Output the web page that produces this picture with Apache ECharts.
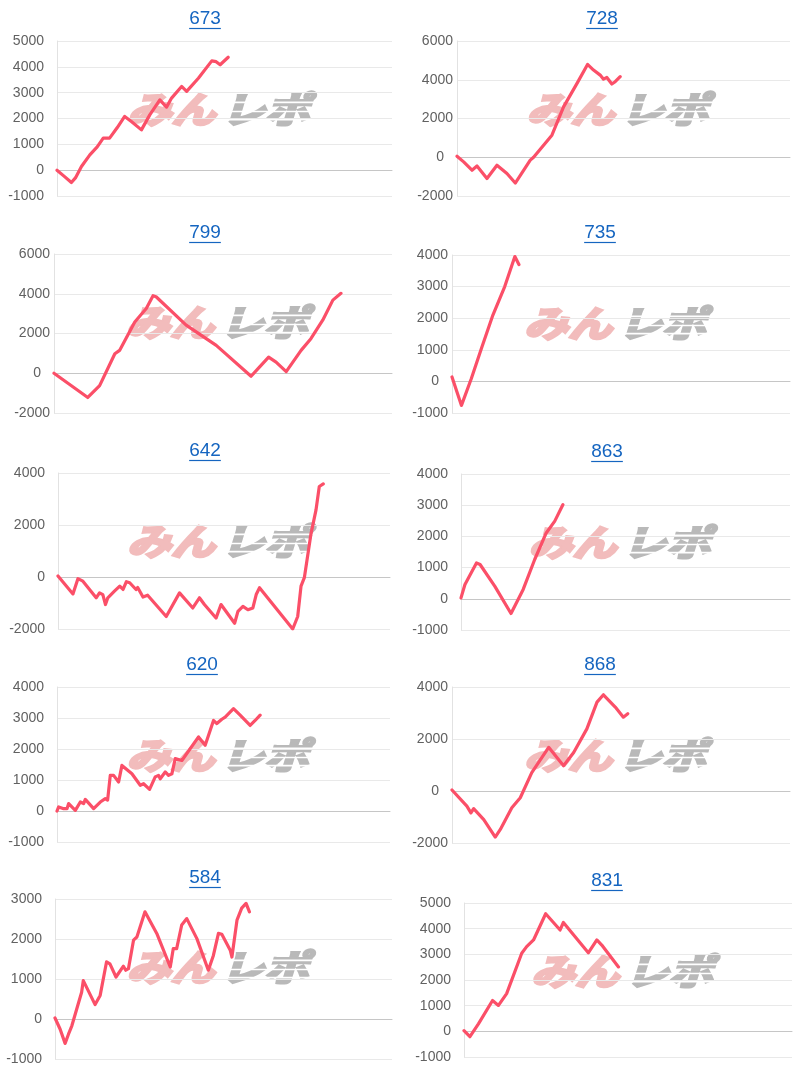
<!DOCTYPE html>
<html><head><meta charset="utf-8">
<script src="https://cdn.jsdelivr.net/npm/echarts@6/dist/echarts.min.js"></script>
<style>html,body{margin:0;padding:0;background:#fff}#c{width:800px;height:1073px}</style>
</head><body><div id="c"></div>
<script>
// ---- data ----
const titles = ['673','728','799','735','642','863','620','868','584','831'];
const yMins = [-1000,-2000,-2000,-1000,-2000,-1000,-1000,-2000,-1000,-1000];
const yMaxs = [5000,6000,6000,4000,4000,4000,4000,4000,3000,5000];
const yIntervals = [1000,2000,2000,1000,2000,1000,1000,2000,1000,1000];
// [position along x axis (%), value]
const d673 = [[0,0],[2,-220],[4.3,-480],[5.5,-300],[7.3,140],[9.8,590],[12,900],[13.8,1240],[15.7,1240],[18,1650],[20.2,2080],[22.2,1880],[25.2,1560],[27.7,2140],[30.7,2720],[32.7,2440],[34.2,2790],[37.2,3240],[38.7,3050],[42.2,3560],[46.2,4230],[47.5,4200],[48.7,4080],[51.1,4370]];
const d728 = [[0,50],[2,-240],[4.5,-670],[6,-450],[9,-1100],[12,-410],[15,-840],[17.5,-1330],[22,-150],[23,0],[28.5,1140],[32,2600],[36,3800],[39.2,4790],[41,4500],[43,4240],[44,4030],[45,4120],[46.5,3780],[47.5,3900],[49,4160]];
const d799 = [[0,0],[10,-1220],[13.5,-620],[18,980],[19.4,1150],[23.9,2580],[27.3,3260],[29.3,3900],[30.2,3850],[39.1,2420],[48,1400],[58.3,-150],[60.3,220],[63.5,810],[65.7,560],[68.7,80],[73.1,1150],[76,1740],[79.5,2670],[82.5,3680],[84.9,4020]];
const d735 = [[0,140],[2.8,-760],[5.7,85],[8.7,1040],[12.1,2100],[15.6,3000],[18.6,3950],[19.8,3700]];
const d642 = [[0,40],[4.5,-650],[6,-65],[7.5,-160],[11.5,-800],[12.5,-610],[13.5,-680],[14.3,-1060],[15,-800],[17,-545],[18.6,-350],[19.6,-480],[20.6,-180],[21.6,-220],[23.5,-480],[24,-400],[25.6,-770],[27,-700],[32.6,-1520],[36.6,-610],[40.6,-1190],[42.6,-800],[44.1,-1060],[47.6,-1580],[49.1,-1060],[53.2,-1780],[54.2,-1320],[55.7,-1130],[57.2,-1260],[58.7,-1190],[59.7,-675],[60.7,-415],[70.7,-2000],[72.2,-1520],[73.2,-350],[74.2,-25],[76.2,1660],[77.7,2570],[78.7,3480],[79.9,3580]];
const d863 = [[0,30],[1.2,460],[4.7,1150],[5.8,1100],[10.3,400],[15.2,-470],[18.9,300],[22.4,1260],[25.9,2110],[28.5,2490],[31,3020]];
const d620 = [[0,0],[0.5,130],[2,75],[3,75],[3.5,240],[5.5,20],[7,290],[8,240],[8.5,375],[11,75],[13,290],[14.5,400],[15.2,350],[16,1150],[17,1150],[18.5,935],[19.5,1470],[22.5,1200],[25,830],[26,880],[27.8,700],[29.5,1100],[30.5,1150],[31,1040],[32.5,1260],[33.5,1150],[34.5,1200],[35.5,1690],[37.5,1630],[42.5,2390],[44.5,2120],[47,2920],[48,2820],[49.5,2960],[50.5,3030],[51,3090],[53,3300],[55,3090],[58,2760],[59.5,2920],[61,3090]];
const d868 = [[0,40],[4.4,-580],[5.6,-840],[6.4,-680],[9.4,-1100],[12.8,-1770],[14.3,-1480],[17.7,-645],[20.2,-260],[23.6,710],[28.6,1680],[33,970],[36,1480],[39.9,2390],[42.9,3420],[44.8,3700],[48.3,3230],[50.7,2840],[52,2970]];
const d584 = [[0,25],[1.5,-250],[3,-610],[4,-380],[5,-170],[7.9,670],[8.4,960],[11.9,360],[13.4,590],[15.3,1430],[16.3,1380],[18.1,1050],[20.3,1320],[21,1220],[21.8,1260],[23.3,1970],[24.3,2050],[26.7,2680],[30.2,2140],[34.2,1300],[35.1,1760],[36.1,1760],[37.6,2350],[39.1,2510],[42.1,2010],[45.5,1220],[47,1590],[48.5,2140],[49.5,2120],[52,1720],[52.5,1550],[54,2470],[55.4,2770],[56.7,2890],[57.7,2680]];
const d831 = [[0,25],[1.8,-210],[4.4,290],[8.7,1200],[10.5,1010],[13,1470],[17.6,3040],[19.1,3300],[21.2,3560],[24.9,4580],[29.3,3950],[30.3,4240],[37.9,3060],[40.5,3560],[42,3360],[47.1,2510]];
const seriesData = [d673,d728,d799,d735,d642,d863,d620,d868,d584,d831];

// ---- layout (pixels) ----
const cells = [
  {l:57, t:41,  w:335, h:155, tx:205, ty:19,  zp:false},
  {l:457,t:41,  w:333, h:155, tx:602, ty:19,  zp:true},
  {l:54, t:254, w:338, h:159, tx:205, ty:233, zp:true},
  {l:452,t:255, w:338, h:158, tx:600, ty:233, zp:true},
  {l:58, t:473, w:332, h:156, tx:205, ty:451, zp:false},
  {l:461,t:474, w:329, h:156, tx:607, ty:452, zp:false},
  {l:57, t:687, w:333, h:155, tx:202, ty:665, zp:false},
  {l:452,t:687, w:338, h:156, tx:600, ty:665, zp:true},
  {l:55, t:899, w:337, h:160, tx:205, ty:878, zp:false},
  {l:464,t:903, w:328, h:154, tx:607, ty:881, zp:false}
];

const FONT = '"Liberation Sans", Arial, sans-serif';
const LINE = '#fb4f68';
const TITLE_COLOR = '#1565c0';

const mc = document.createElement('canvas').getContext('2d');
mc.font = '19px ' + FONT;

const grids = [], xAxes = [], yAxes = [], series = [], graphics = [];
cells.forEach((c, i) => {
  grids.push({left:c.l, top:c.t, width:c.w, height:c.h, containLabel:false});
  xAxes.push({gridIndex:i, type:'value', min:0, max:100,
    axisLine:{show:true, onZero:true, lineStyle:{color:'#c6c6c6', width:1}},
    axisTick:{show:false}, axisLabel:{show:false}, splitLine:{show:false}});
  yAxes.push({gridIndex:i, type:'value', min:yMins[i], max:yMaxs[i], interval:yIntervals[i],
    axisLine:{show:true, lineStyle:{color:'#e2e2e2'}},
    axisTick:{show:false},
    axisLabel:{color:'#616161', fontSize:14, fontFamily:FONT, margin: c.zp ? 4 : 13,
      formatter: v => (c.zp && v === 0) ? '{z|0}' : String(v),
      rich:{z:{padding:[0,9,0,0], color:'#616161', fontSize:14, fontFamily:FONT}}},
    splitLine:{show:true, lineStyle:{color:'#e9e9e9', width:1}}});
  series.push({type:'line', xAxisIndex:i, yAxisIndex:i, data:seriesData[i],
    showSymbol:false, symbol:'none', smooth:false, z:5,
    lineStyle:{color:LINE, width:3.2, join:'round', cap:'round'}, animation:false});

  // title + underline
  const tw = mc.measureText(titles[i]).width;
  graphics.push({type:'text', x:c.tx, y:c.ty, z:10,
    style:{text:titles[i], font:'19px ' + FONT, fill:TITLE_COLOR, align:'center', verticalAlign:'middle'}});
  graphics.push({type:'line', z:10, shape:{x1:c.tx - tw/2, y1:c.ty + 9.5, x2:c.tx + tw/2, y2:c.ty + 9.5},
    style:{stroke:TITLE_COLOR, lineWidth:1.2}});

  // watermark
  const cx = c.l + c.w/2, cy = c.t + 68;
  const wmFont = 'italic bold 44px "Noto Sans CJK JP"';
  const pink = '#f2bcbc', gray = '#b9b9b9';
  graphics.push({type:'group', x:cx, y:cy, scaleY:0.82, z:1, children:[
    {type:'text', x:-9, y:0, style:{text:'みん', font:wmFont, fill:pink, stroke:pink, lineWidth:3.5, align:'right', verticalAlign:'middle'}},
    {type:'text', x:-3, y:0, style:{text:'レポ', font:wmFont, fill:gray, stroke:gray, lineWidth:3.5, align:'left', verticalAlign:'middle'}},
    {type:'rect', shape:{x:-4, y:-9, width:100, height:2}, style:{fill:'#ffffff'}},
    {type:'rect', shape:{x:-6, y:2, width:100, height:2}, style:{fill:'#ffffff'}},
    {type:'rect', shape:{x:-8, y:12, width:100, height:2}, style:{fill:'#ffffff'}}
  ]});
});

const chart = echarts.init(document.getElementById('c'));
chart.setOption({
  animation:false,
  backgroundColor:'#ffffff',
  grid:grids, xAxis:xAxes, yAxis:yAxes, series:series,
  graphic:{elements:graphics}
});
</script></body></html>
